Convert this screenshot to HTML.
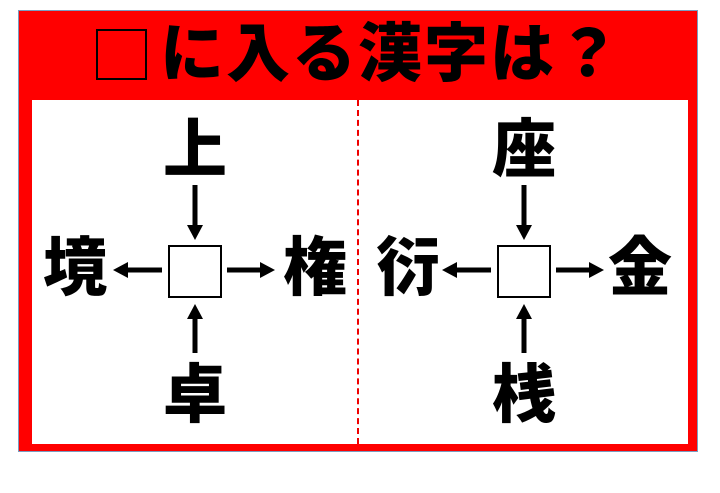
<!DOCTYPE html>
<html><head><meta charset="utf-8"><style>
body{margin:0;width:720px;height:493px;background:#fff;position:relative;overflow:hidden;font-family:"Liberation Sans","Noto Sans CJK JP",sans-serif}
.k{position:absolute;font-weight:900;font-size:64px;line-height:64px;width:80px;text-align:center;color:#000}
</style></head><body>
<div style="position:absolute;left:19px;top:11px;width:678px;height:440px;background:#f00;outline:1px solid #7a9cc0"></div>
<div style="position:absolute;left:32px;top:100px;width:656px;height:344px;background:#fff"></div>
<div style="position:absolute;left:96px;top:29px;width:51px;height:51px;border:2px solid #000;box-sizing:border-box"></div>
<div style="position:absolute;left:160px;top:20px;width:500px;font-size:64px;line-height:68px;font-weight:900;color:#000;letter-spacing:2px">に入る漢字は？</div>
<div style="position:absolute;left:357px;top:100px;height:344px;border-left:2px dashed #e00"></div>
<svg width="720" height="493" style="position:absolute;left:0;top:0">
<g stroke="#000" stroke-width="5" fill="none">
<rect x="169" y="246" width="52" height="51" stroke-width="2"/>
<rect x="498" y="246" width="52" height="51" stroke-width="2"/>
<line x1="195" y1="185" x2="195" y2="228"/>
<line x1="162" y1="270" x2="125" y2="270"/>
<line x1="227" y1="270" x2="263" y2="270"/>
<line x1="195" y1="353" x2="195" y2="316"/>
<line x1="524" y1="185" x2="524" y2="228"/>
<line x1="491" y1="270" x2="454" y2="270"/>
<line x1="556" y1="270" x2="592" y2="270"/>
<line x1="524" y1="353" x2="524" y2="316"/>
</g>
<g fill="#000">
<polygon points="187,225 203,225 195,240"/>
<polygon points="128,262 128,278 113,270"/>
<polygon points="260,262 260,278 275,270"/>
<polygon points="187,319 203,319 195,304"/>
<polygon points="516,225 532,225 524,240"/>
<polygon points="457,262 457,278 442,270"/>
<polygon points="589,262 589,278 604,270"/>
<polygon points="516,319 532,319 524,304"/>
</g></svg>
<div class="k" style="left:155px;top:118px">上</div>
<div class="k" style="left:35px;top:236px">境</div>
<div class="k" style="left:275px;top:236px">権</div>
<div class="k" style="left:155px;top:363px">卓</div>
<div class="k" style="left:484px;top:118px">座</div>
<div class="k" style="left:368px;top:236px">衍</div>
<div class="k" style="left:600px;top:236px">金</div>
<div class="k" style="left:484px;top:363px">桟</div>
</body></html>
